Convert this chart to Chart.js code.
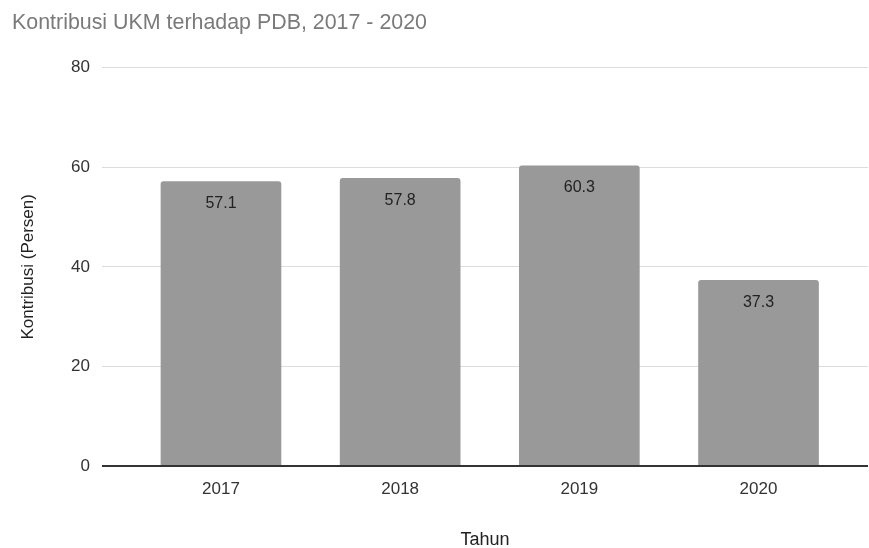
<!DOCTYPE html>
<html>
<head>
<meta charset="utf-8">
<script src="https://cdn.jsdelivr.net/npm/chart.js@4.4.0/dist/chart.umd.min.js"></script>
<style>
  html, body { margin: 0; padding: 0; background: #fff; }
  #wrap { width: 869px; height: 548px; }
</style>
</head>
<body>
<div id="wrap"><canvas id="chart" width="869" height="548"></canvas></div>
<script>
// ── Data ─────────────────────────────────────────────
const years   = ['2017', '2018', '2019', '2020'];
const values  = [57.1, 57.8, 60.3, 37.3];
const yTicks  = [0, 20, 40, 60, 80];

const BAR = '#999999';
const FONT = '"Liberation Sans", Arial, sans-serif';

// value labels drawn inside the top of each bar
const barLabels = {
  id: 'barLabels',
  afterDatasetsDraw(chart) {
    const c = chart.ctx;
    const meta = chart.getDatasetMeta(0);
    c.save();
    c.font = '16px ' + FONT;
    c.fillStyle = '#222';
    c.textAlign = 'center';
    c.textBaseline = 'middle';
    meta.data.forEach((bar, i) => {
      c.fillText(values[i].toFixed(1), bar.x, bar.y + 22);
    });
    c.restore();
  }
};

// darker baseline at zero
const zeroLine = {
  id: 'zeroLine',
  afterDatasetsDraw(chart) {
    const { ctx: c, chartArea: a, scales: { y } } = chart;
    const py = Math.round(y.getPixelForValue(0));
    c.save();
    c.strokeStyle = '#333';
    c.lineWidth = 2;
    c.beginPath();
    c.moveTo(a.left, py);
    c.lineTo(a.right, py);
    c.stroke();
    c.restore();
  }
};

new Chart(document.getElementById('chart'), {
  type: 'bar',
  data: {
    datasets: [{
      data: values.map((v, i) => ({ x: i, y: v })),
      backgroundColor: BAR,
      borderRadius: { topLeft: 3, topRight: 3 },
      borderSkipped: false,
      barThickness: 120
    }]
  },
  options: {
    responsive: false,
    animation: false,
    layout: { padding: { left: 12, right: 1, top: 0, bottom: 0 } },
    plugins: {
      legend: { display: false },
      tooltip: { enabled: false },
      title: {
        display: true,
        text: 'Kontribusi UKM terhadap PDB, 2017 - 2020',
        align: 'start',
        color: '#7a7a7a',
        font: { family: FONT, size: 21.4, weight: 'normal' },
        padding: { top: 10, bottom: 32 }
      }
    },
    scales: {
      x: {
        type: 'linear',
        min: -0.664,
        max: 3.611,
        offset: false,
        grid: { display: false, drawTicks: false },
        border: { display: false },
        afterBuildTicks: s => { s.ticks = years.map((_, i) => ({ value: i })); },
        afterFit: s => { s.height = 82; },
        ticks: {
          callback: v => years[v],
          color: '#333',
          font: { family: FONT, size: 17 },
          padding: 13,
          maxRotation: 0,
          autoSkip: false
        },
        title: {
          display: true,
          text: 'Tahun',
          color: '#222',
          font: { family: FONT, size: 18 },
          padding: { top: 0, bottom: -3 }
        }
      },
      y: {
        min: 0,
        max: 80,
        afterBuildTicks: s => { s.ticks = yTicks.map(v => ({ value: v })); },
        grid: { color: '#dcdcdc', drawTicks: false },
        border: { display: false },
        afterFit: s => { s.width = 90; },
        ticks: {
          color: '#333',
          font: { family: FONT, size: 17 },
          padding: 12
        },
        title: {
          display: true,
          text: 'Kontribusi (Persen)',
          color: '#222',
          font: { family: FONT, size: 17 },
          padding: { top: 6, bottom: 0 }
        }
      }
    }
  },
  plugins: [barLabels, zeroLine]
});
</script>
</body>
</html>
